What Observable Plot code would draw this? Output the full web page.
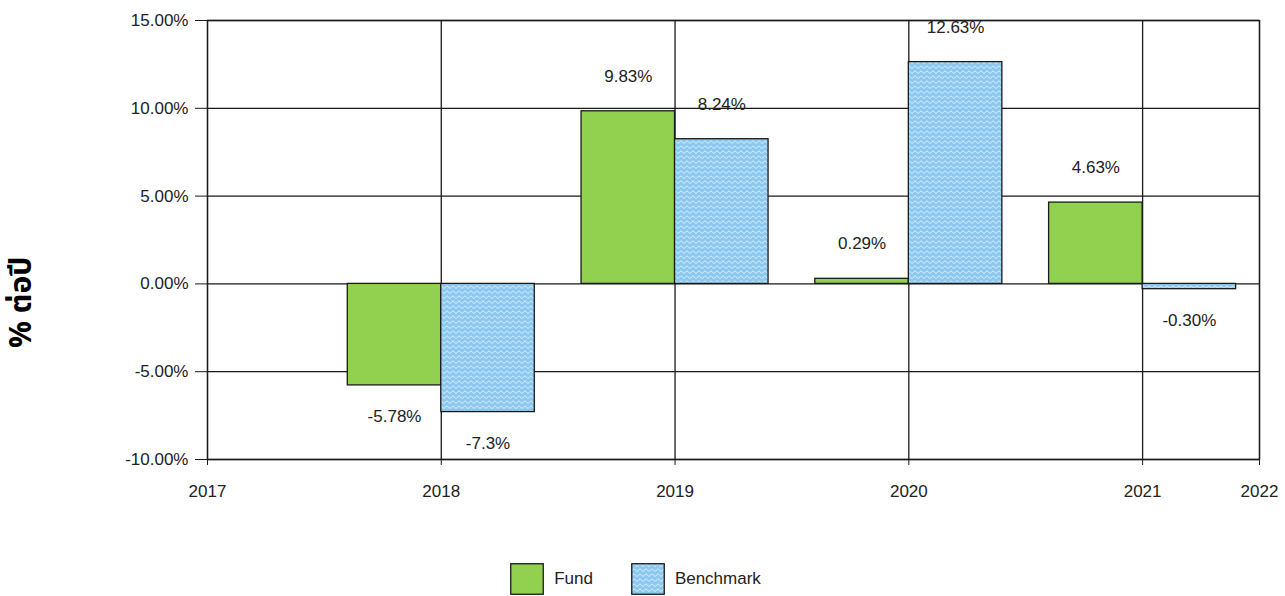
<!DOCTYPE html>
<html>
<head>
<meta charset="utf-8">
<script src="https://cdn.jsdelivr.net/npm/d3@7"></script>
<script src="https://cdn.jsdelivr.net/npm/@observablehq/plot@0.6"></script>
<style>
  html, body { margin: 0; padding: 0; background: #fff; }
  body { width: 1285px; height: 596px; overflow: hidden; font-family: "Liberation Sans", Arial, sans-serif; }
  #legend { display: flex; justify-content: center; align-items: center; margin-top: 33px; padding-right: 14px; font-size: 17px; color: #222; }
  #legend .item { display: flex; align-items: center; }
  #legend .item + .item { margin-left: 38px; }
  #legend svg { display: block; margin-right: 10px; }
</style>
</head>
<body>
<div id="chart"></div>
<div id="legend"></div>
<script>
// ---- data ----
const years = ["2017", "2018", "2019", "2020", "2021", "2022"];
const categories = ["2018", "2019", "2020", "2021"];
const fund = [-5.78, 9.83, 0.29, 4.63];
const benchmark = [-7.3, 8.24, 12.63, -0.30];
const fundLabels = ["-5.78%", "9.83%", "0.29%", "4.63%"];
const benchmarkLabels = ["-7.3%", "8.24%", "12.63%", "-0.30%"];
const yTicks = [-10, -5, 0, 5, 10, 15];
const seriesNames = ["Fund", "Benchmark"];
const yTitle = "% ต่อปี";

// ---- derived ----
const fundColor = "#92d050";
const benchBase = "#8cc8ef";
const barW = 0.4;
// year positions: equal steps, final year closes the frame half a step later
const xPos = years.map((y, i) => (i < years.length - 1 ? i : i - 0.5));
const yearAt = new Map(xPos.map((p, i) => [p, years[i]]));
const rows = [];
categories.forEach((c, k) => {
  const p = xPos[years.indexOf(c)];
  rows.push({series: "Fund", x1: p - barW, x2: p, value: fund[k], label: fundLabels[k]});
  rows.push({series: "Benchmark", x1: p, x2: p + barW, value: benchmark[k], label: benchmarkLabels[k]});
});
const ink = "#1a1a1a";
const fmtY = d => d.toFixed(2) + "%";

const chart = Plot.plot({
  width: 1285,
  height: 530,
  marginLeft: 207,
  marginRight: 26,
  marginTop: 20,
  marginBottom: 71,
  style: {fontFamily: "'Liberation Sans', Arial, sans-serif", fontSize: "17px", color: "#222", background: "#fff"},
  x: {type: "linear", domain: [xPos[0], xPos[xPos.length - 1]]},
  y: {domain: [yTicks[0], yTicks[yTicks.length - 1]]},
  marks: [
    Plot.ruleY(yTicks, {y: d => d, stroke: ink, strokeWidth: 1.3}),
    Plot.ruleX(xPos, {x: d => d, stroke: ink, strokeWidth: 1.3}),
    Plot.rect(rows.filter(d => d.series === "Fund"), {x1: "x1", x2: "x2", y1: 0, y2: "value", fill: fundColor, stroke: ink, strokeWidth: 1.3}),
    Plot.rect(rows.filter(d => d.series === "Benchmark"), {x1: "x1", x2: "x2", y1: 0, y2: "value", fill: "url(#bmPattern)", stroke: ink, strokeWidth: 1.3}),
    Plot.text(rows.filter(d => d.value >= 0), {x: d => (d.x1 + d.x2) / 2, y: "value", text: "label", dy: -35, fontSize: 17, fill: "#222"}),
    Plot.text(rows.filter(d => d.value < 0), {x: d => (d.x1 + d.x2) / 2, y: "value", text: "label", dy: 31, fontSize: 17, fill: "#222"}),
    Plot.frame({stroke: ink, strokeWidth: 1.3}),
    Plot.axisY({ticks: yTicks, tickFormat: fmtY, tickSize: 12, tickPadding: 7, fontSize: 17, label: null, stroke: ink}),
    Plot.axisX({ticks: xPos, tickFormat: d => yearAt.get(d), tickSize: 6, tickPadding: 19, fontSize: 17, label: null, stroke: ink}),
    Plot.text([yTitle], {frameAnchor: "left", text: d => d, rotate: -90, dx: -186, dy: 108, fontSize: 30, fontWeight: "bold", fill: "#000",
      fontFamily: "'Noto Sans Thai', 'Noto Sans Thai UI', Tahoma, 'Loma', 'Garuda', 'DejaVu Sans', sans-serif"})
  ]
});

// pattern definition for the benchmark bars
function addPattern(svg, id) {
  const defs = d3.select(svg).insert("defs", ":first-child");
  const p = defs.append("pattern").attr("id", id).attr("patternUnits", "userSpaceOnUse")
    .attr("width", 6).attr("height", 5);
  p.append("rect").attr("width", 6).attr("height", 5).attr("fill", benchBase);
  p.append("path").attr("d", "M0,3.5 L3,0.8 L6,3.5").attr("fill", "none")
    .attr("stroke", "#dff1fc").attr("stroke-width", 0.9);
}
addPattern(chart, "bmPattern");
document.getElementById("chart").appendChild(chart);

// legend
const legend = d3.select("#legend");
seriesNames.forEach(name => {
  const item = legend.append("div").attr("class", "item");
  const s = item.append("svg").attr("width", 34).attr("height", 32);
  s.append("rect").attr("x", 0.75).attr("y", 0.75).attr("width", 32.5).attr("height", 30.5)
    .attr("fill", name === "Fund" ? fundColor : "url(#bmPattern)").attr("stroke", ink).attr("stroke-width", 1.3);
  item.append("span").text(name);
});
</script>
</body>
</html>
